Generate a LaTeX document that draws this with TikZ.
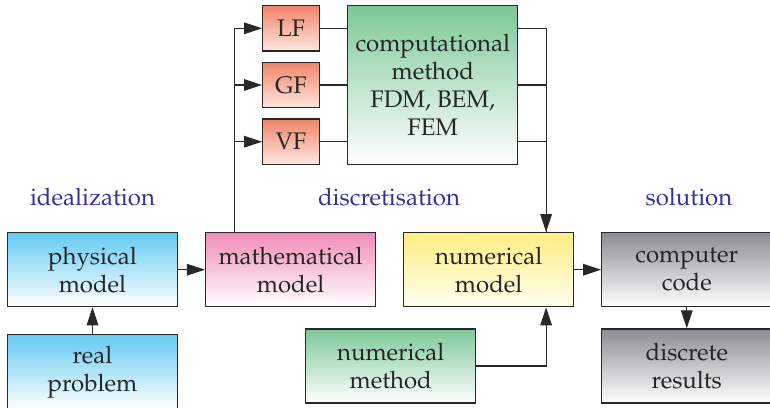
\documentclass[tikz,border=0pt]{standalone}
\usepackage[T1]{fontenc}
\usepackage{mathpazo}
\usepackage{xcolor}
\usetikzlibrary{arrows.meta, positioning}
\definecolor{edge}{RGB}{40,40,40}
\definecolor{sky}{RGB}{100,202,242}
\definecolor{rose}{RGB}{240,140,185}
\definecolor{lemon}{RGB}{255,238,130}
\definecolor{steel}{RGB}{140,140,146}
\definecolor{mint}{RGB}{125,200,152}
\definecolor{salmon}{RGB}{240,132,104}
\definecolor{stage}{RGB}{50,50,155}

\begin{document}
\begin{tikzpicture}[x=0.5pt, y=-0.5pt, font=\fontsize{12}{14}\selectfont, node distance=13.4pt,
  b/.style={rectangle, draw=edge, line width=0.65pt, text=black!85,
            minimum width=85pt, minimum height=37pt, align=center, bottom color=white},
  f/.style={b, minimum width=28.3pt, minimum height=22.7pt, top color=salmon, bottom color=salmon!20},
  lab/.style={text=stage},
  a/.style={-{Triangle[length=9pt, width=5.8pt]}, line width=0.6pt, draw=edge}]
  \useasboundingbox (0,0) rectangle (770,407);
  % main row
  \node[b, top color=sky] (phys) at (92.5,269.7) {physical\\model};
  \node[b, top color=rose, right=of phys] (math) {mathematical\\model};
  \node[b, top color=lemon, bottom color=lemon!12, right=of math] (nmodel) {numerical\\model};
  \node[b, top color=steel, right=of nmodel] (code) {computer\\code};
  \node[b, top color=sky, below=of phys] (real) {real\\problem};
  \node[b, top color=steel, below=10.5pt of code] (disc) {discrete\\results};
  \node[b, top color=mint] (nmeth) at (390.7,366) {numerical\\method};
  % formulations
  \node[f] (lf) at (291,28.3) {LF};
  \node[f, below=5pt of lf] (gf) {GF};
  \node[f, below=5pt of gf] (vf) {VF};
  \node[b, top color=mint, minimum height=79.3pt, right=13.6pt of gf] (comp)
       {computational\\method\\FDM, BEM,\\FEM};
  % stages
  \node[lab] (ideal) at (92.5,197) {idealization};
  \node[lab] (discr) at (389,197) {discretisation};
  \node[lab] (sol) at (689,197) {solution};
  % connectors
  \draw[a] (real) -- (phys);
  \draw[a] (phys) -- (math);
  \draw[a] ([xshift=-28.1pt]math.north) |- (lf);
  \draw[a] ([xshift=-28.1pt]math.north) |- (gf);
  \draw[a] ([xshift=-28.1pt]math.north) |- (vf);
  \draw[a, -] (lf) -- (lf -| comp.west);
  \draw[a, -] (gf) -- (comp);
  \draw[a, -] (vf) -- (vf -| comp.west);
  \draw[a] (comp.east |- lf) -| ([xshift=28.7pt]nmodel.north);
  \draw[a, -] (comp) -| ([xshift=28.7pt]nmodel.north);
  \draw[a, -] (comp.east |- vf) -| ([xshift=28.7pt]nmodel.north);
  \draw[a] (nmeth) -| ([xshift=28.7pt]nmodel.south);
  \draw[a] (nmodel) -- (code);
  \draw[a] (code) -- (disc);
\end{tikzpicture}
\end{document}
